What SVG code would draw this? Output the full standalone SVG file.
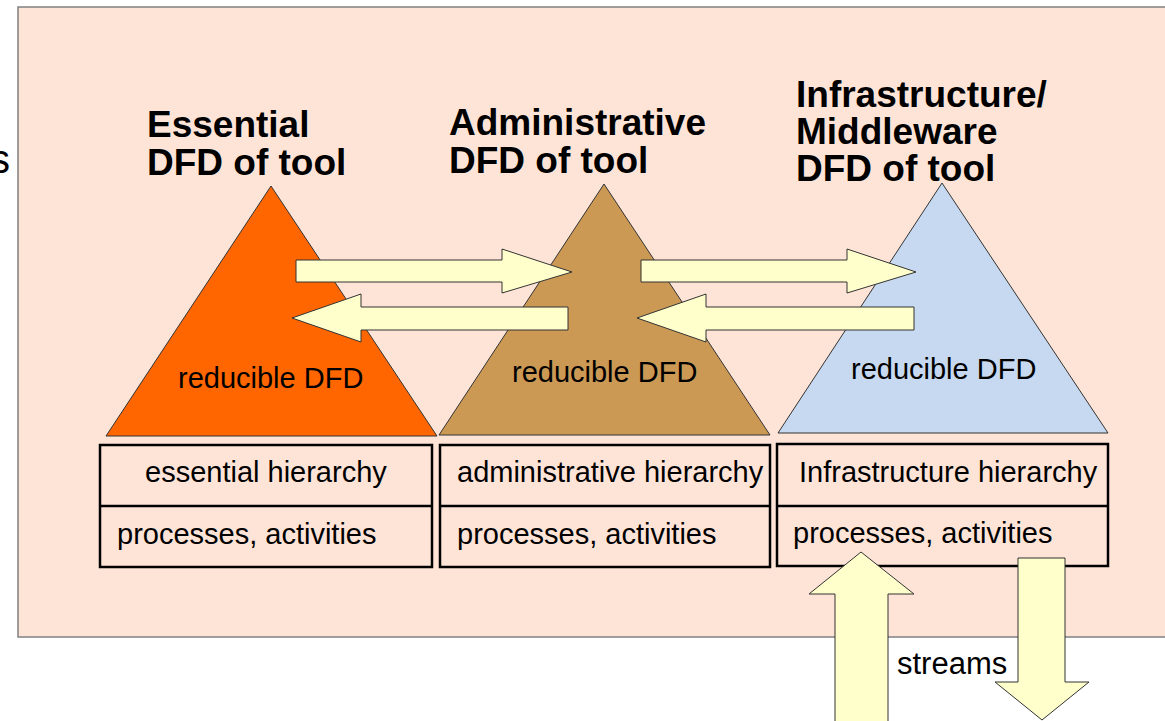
<svg xmlns="http://www.w3.org/2000/svg" width="1165" height="721" viewBox="0 0 1165 721">
<style>
.title{font-family:"Liberation Sans",Arial,sans-serif;font-weight:bold;font-size:37px;fill:#000}
.lbl{font-family:"Liberation Sans",Arial,sans-serif;font-size:29px;fill:#000}
.box{font-family:"Liberation Sans",Arial,sans-serif;font-size:29px;fill:#000}
.tri{stroke:#333;stroke-width:1}
.cell{fill:none;stroke:#000;stroke-width:2.5}
.arr{fill:#ffffcc;stroke:#333;stroke-width:1}
</style>
<rect width="1165" height="721" fill="#fff"/>
<rect id="panel" x="18" y="7" width="1160" height="630" fill="#fee4d7" stroke="#808080" stroke-width="1.5"/>
<text class="lbl" x="-10" y="173" style="font-size:40px">s</text>

<g id="essential">
  <polygon class="tri" points="271,186 106,436 437,436" fill="#ff6600"/>
  <text class="title" x="147" y="137">Essential</text>
  <text class="title" x="147" y="175">DFD of tool</text>
  <text class="lbl" x="178" y="388">reducible DFD</text>
</g>
<g id="administrative">
  <polygon class="tri" points="604,184 439,435 770,435" fill="#cc9955"/>
  <text class="title" x="449" y="135">Administrative</text>
  <text class="title" x="449" y="173">DFD of tool</text>
  <text class="lbl" x="512" y="382">reducible DFD</text>
</g>
<g id="infrastructure">
  <polygon class="tri" points="942,183 778,433 1108,433" fill="#c6d9f0"/>
  <text class="title" x="796" y="107">Infrastructure/</text>
  <text class="title" x="796" y="144">Middleware</text>
  <text class="title" x="796" y="181">DFD of tool</text>
  <text class="lbl" x="851" y="379">reducible DFD</text>
</g>

<g id="essential-box">
  <rect class="cell" x="100" y="445" width="332" height="122"/>
  <line class="cell" x1="100" y1="506" x2="432" y2="506"/>
  <text class="box" x="145" y="482">essential hierarchy</text>
  <text class="box" x="117" y="544">processes, activities</text>
</g>
<g id="administrative-box">
  <rect class="cell" x="440" y="445" width="330" height="122"/>
  <line class="cell" x1="440" y1="506" x2="770" y2="506"/>
  <text class="box" x="457" y="482">administrative hierarchy</text>
  <text class="box" x="457" y="544">processes, activities</text>
</g>
<g id="infrastructure-box">
  <rect class="cell" x="777" y="444" width="331" height="122"/>
  <line class="cell" x1="777" y1="506" x2="1108" y2="506"/>
  <text class="box" x="799" y="482">Infrastructure hierarchy</text>
  <text class="box" x="793" y="543">processes, activities</text>
</g>

<g id="connectors">
  <polygon class="arr" points="296,260 502,260 502,249 572,272 502,293 502,282 296,282"/>
  <polygon class="arr" points="641,260 847,260 847,249 916,272 847,293 847,282 641,282"/>
  <polygon class="arr" points="568,307 361,307 361,294 292,318 361,342 361,330 568,330"/>
  <polygon class="arr" points="914,307 706,307 706,294 637,318 706,342 706,330 914,330"/>
  <polygon class="arr" points="835,730 835,594 809,594 861,552 914,594 888,594 888,730"/>
  <polygon class="arr" points="1018,558 1065,558 1065,682 1089,682 1042,720 995,682 1018,682"/>
  <text class="lbl" x="897" y="674" style="font-size:31px">streams</text>
</g>
</svg>
